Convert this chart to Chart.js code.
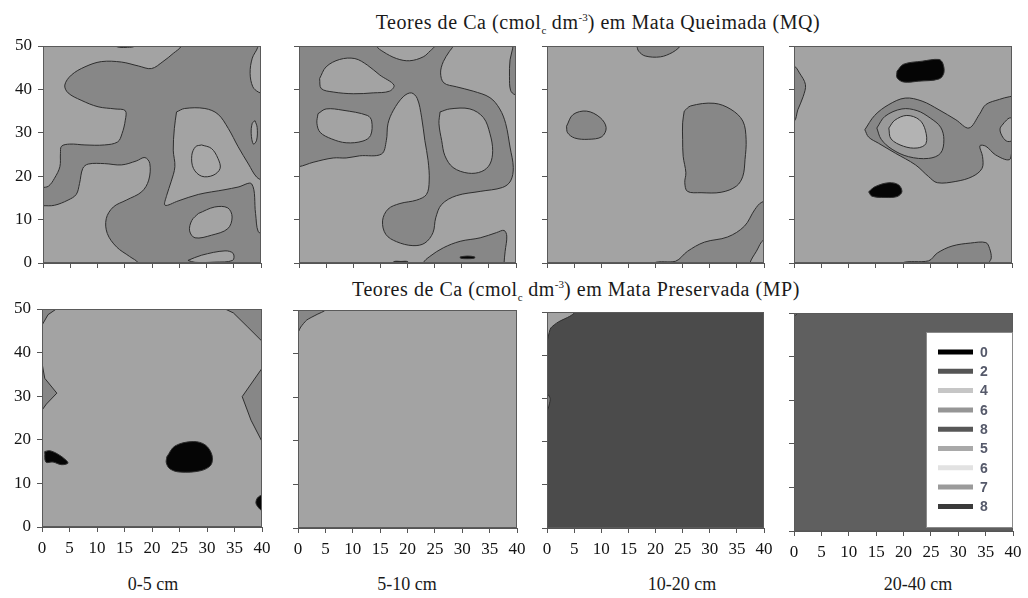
<!DOCTYPE html>
<html lang="pt">
<head>
<meta charset="utf-8">
<script src="https://cdn.jsdelivr.net/npm/chart.js@4.4.1/dist/chart.umd.min.js"></script>
<style>
  html, body { margin: 0; padding: 0; background: #fff; }
  #folha { position: relative; width: 1028px; height: 598px; overflow: hidden; background: #fff; }
  canvas { position: absolute; }
  .titulo { position: absolute; width: 700px; text-align: center; font-family: "Liberation Serif", serif; font-size: 20px; letter-spacing: 0.55px; color: #1a1a1a; white-space: nowrap; line-height: 20px; }
  .titulo sub, .titulo sup { font-size: 11px; line-height: 0; letter-spacing: 0; }
  .prof { position: absolute; width: 120px; text-align: center; font-family: "Liberation Serif", serif; font-size: 18px; color: #1a1a1a; line-height: 18px; }
</style>
</head>
<body>
<div id="folha">
  <div class="titulo" style="left:248px; top:12px;">Teores de Ca (cmol<sub>c</sub> dm<sup>-3</sup>) em Mata Queimada (MQ)</div>
  <div class="titulo" style="left:226px; top:279px;">Teores de Ca (cmol<sub>c</sub> dm<sup>-3</sup>) em Mata Preservada (MP)</div>
</div>
<script>
// Camadas de profundidade e legenda de classes
const PROFUNDIDADES = ['0-5 cm', '5-10 cm', '10-20 cm', '20-40 cm'];
const CLASSES_ROTULOS = ['0', '2', '4', '6', '8', '5', '6', '7', '8'];

// Extensão da malha amostral (m)
const X_MIN = 0, X_MAX = 40, X_PASSO = 5;
const Y_MIN = 0, Y_MAX = 50, Y_PASSO = 10;

// ---------- MQ 0-5 cm : isolinhas (x, y) ----------
const mqA_claro1 = [[-2,52],[25.6,52],[25.4,50],[23.9,48.3],[22.0,46.4],[19.9,44.8],[17.5,45.4],[14.4,46.3],[10.7,46.4],[7.7,45.2],[5.2,43.3],[4.0,41.0],[4.6,39.2],[7.0,37.5],[10.1,36.0],[13.2,35.5],[15.1,35.1],[15.1,32.9],[14.5,29.8],[13.7,27.9],[11.3,27.2],[7.7,27.2],[4.9,27.4],[3.4,26.9],[3.2,25.2],[3.1,22.2],[2.1,19.5],[1.0,17.7],[-0.2,17.4],[-2,17.4]];
const mqA_claro2 = [[-2,13.2],[0,13.2],[2.1,13.3],[4.6,14.5],[6.1,15.8],[6.7,18.3],[7.3,21.8],[8.3,22.8],[11.3,22.9],[14.4,22.6],[17.1,23.5],[18.7,24.3],[19.6,22.9],[19.4,19.1],[18.1,16.4],[15.3,14.5],[12.9,12.9],[11.6,10.2],[11.8,6.8],[13.5,3.7],[15.9,1.5],[17.5,0],[17.8,-2],[-2,-2]];
const mqA_claro3 = [[24.5,34.8],[26.0,35.6],[29.7,35.6],[32.1,34.3],[34.0,31.0],[35.8,26.8],[37.7,22.8],[39.2,19.8],[40.5,19.0],[42,19],[42,6.8],[40.5,6.9],[39.5,7.2],[39.0,11.4],[38.3,18.2],[35.8,17.5],[33.4,16.9],[28.5,15.8],[24.8,14.3],[22.4,13.3],[22.7,15.6],[23.5,18.7],[24.2,22.2],[23.9,26.0],[24.1,31.0],[24.5,34.8]];
const mqA_ilha = [[29.1,27.2],[30.9,26.4],[32.1,24.1],[32.5,21.8],[31.2,20.2],[29.1,20.0],[27.6,21.8],[27.3,24.8],[28.0,26.8],[29.1,27.2]];
const mqA_claro4 = [[28.5,11.4],[31.5,12.9],[33.9,12.7],[34.7,10.6],[33.9,7.9],[30.9,6.4],[27.9,5.8],[26.9,7.4],[27.3,9.8],[28.5,11.4]];
const mqA_claro5 = [[26.6,0.6],[29.1,1.8],[33.4,2.8],[34.9,2.2],[34.8,0.6],[31.5,0.2],[27.9,0.15],[26.6,0.6]];
const mqA_claro6 = [[39.6,52],[39.4,49.7],[38.4,47.2],[38.0,43.7],[38.5,40.6],[39.5,39.4],[40.5,39.0],[42,39],[42,52]];
const mqA_claro7 = [[38.9,32.8],[39.3,31.2],[39.2,28.3],[38.6,27.4],[38.2,29.8],[38.4,32.2],[38.9,32.8]];
const mqA_faixa = [[13.0,52],[17.0,52],[16.8,50],[15.5,49.7],[14.0,49.7],[13.2,50]];

// ---------- MQ 5-10 cm ----------
const mqB_escuro1 = [[-2,52],[28.5,52],[28.4,50],[27.7,48.7],[26.6,46.4],[26.1,43.8],[26.7,41.5],[29.0,40.6],[32.1,39.6],[35.2,38.1],[37.0,35.5],[38.1,32.1],[38.9,26.7],[39.5,22.0],[39.0,18.9],[37.5,17.4],[33.4,16.5],[29.0,15.5],[26.3,13.5],[25.2,10.4],[24.7,7.0],[23.2,4.6],[21.0,4.0],[18.0,4.9],[16.0,6.6],[15.4,9.7],[16.4,12.4],[18.6,13.7],[21.7,14.5],[23.5,15.8],[24.0,18.9],[23.8,23.6],[23.2,28.2],[22.6,33.6],[21.8,37.9],[20.7,39.2],[19.2,38.3],[17.4,35.2],[16.4,32.1],[16.1,28.2],[15.2,25.1],[11.2,24.7],[8.7,24.2],[6.3,24.2],[2.6,23.2],[0,22.2],[-2,22.2]];
const mqB_claro1 = [[14.2,52],[14.3,50],[15.5,48.7],[18.0,47.1],[20.4,46.6],[22.9,47.5],[24.2,48.9],[25.0,50],[25.1,52]];
const mqB_claro2 = [[3.8,42.5],[5.0,45.2],[7.5,46.9],[10.3,47.1],[12.6,45.6],[14.9,43.3],[17.5,41.0],[16.7,39.6],[13.7,39.2],[10.0,39.0],[6.3,39.4],[4.1,40.2],[3.8,42.5]];
const mqB_claro3 = [[3.5,34.4],[5.0,35.5],[8.1,35.2],[12.6,34.0],[13.4,32.7],[13.2,29.4],[11.8,28.1],[8.7,27.7],[6.0,28.6],[3.9,30.1],[3.3,32.2],[3.5,34.4]];
const mqB_claro4 = [[26.0,34.8],[27.8,35.5],[31.5,35.5],[34.0,33.5],[35.2,29.8],[35.7,25.9],[35.2,22.8],[33.7,21.1],[31.2,20.7],[28.4,22.0],[26.9,24.7],[26.3,28.2],[25.8,32.1],[26.0,34.8]];
const mqB_escuro2 = [[22.8,-2],[22.9,0],[24.1,1.5],[26.6,3.5],[29.7,5.0],[33.4,5.8],[36.4,7.0],[37.8,7.5],[38.3,6.2],[38.0,2.7],[37.8,0],[37.8,-2]];
const mqB_escuro3 = [[39.5,52],[39.4,49.5],[38.9,46.8],[38.8,42.9],[39.0,39.8],[39.8,38.8],[42,38.6],[42,52]];
const mqB_preto1 = [[29.7,1.4],[31.0,1.6],[32.4,1.4],[32.3,1.1],[31.0,1.0],[29.8,1.1],[29.7,1.4]];
const mqB_preto2 = [[17.3,-1],[17.4,0.25],[18.8,0.35],[20.1,0.25],[20.2,-1]];

// ---------- MQ 10-20 cm ----------
const mqC_escuro1 = [[16.6,52],[16.6,50],[16.9,48.8],[18.1,47.7],[20.9,47.5],[23.1,48.5],[24.3,49.6],[24.5,50],[24.5,52]];
const mqC_escuro2 = [[3.6,31.5],[4.8,34.2],[7.3,35.0],[9.8,33.5],[10.9,31.2],[10.1,29.1],[7.6,28.5],[5.1,28.8],[3.8,30.0],[3.6,31.5]];
const mqC_escuro3 = [[25.3,35.0],[26.5,36.2],[30.8,36.8],[33.9,35.4],[36.1,32.7],[36.7,28.5],[36.5,23.8],[36.1,20.0],[34.9,17.7],[32.1,16.3],[28.4,16.2],[25.9,16.5],[25.4,18.5],[25.6,20.8],[25.1,24.6],[25.0,28.5],[25.0,32.3],[25.3,35.0]];
const mqC_escuro4 = [[19.6,-2],[19.7,0],[23.7,0.4],[25.9,2.7],[29.0,4.8],[33.3,6.0],[36.4,8.5],[38.3,12.3],[39.6,14.0],[42,14.4],[42,5.2],[40,5.4],[38.6,2.7],[37.4,0],[37.3,-2]];

// ---------- MQ 20-40 cm ----------
const mqD_escuro1 = [[-2,45.6],[0,45.4],[1.0,43.8],[2.1,41.1],[1.7,38.4],[0.7,35.3],[0,32.6],[-2,32.4]];
const mqD_preto1 = [[18.9,44.2],[20.1,45.8],[23.5,46.5],[26.6,46.9],[27.3,46.0],[27.5,43.8],[26.6,42.4],[22.9,41.9],[20.1,41.7],[18.9,42.7],[18.9,44.2]];
const mqD_preto2 = [[13.7,16.4],[14.9,17.6],[17.4,18.5],[19.2,18.0],[19.8,16.4],[18.9,15.3],[16.7,15.1],[14.3,15.4],[13.7,16.4]];
const mqD_escuro2 = [[13.0,30.7],[14.8,34.0],[17.4,36.5],[20.4,38.0],[23.5,37.3],[26.6,35.3],[29.7,33.0],[32.1,31.1],[34.0,34.2],[35.2,36.5],[37.7,37.7],[39.5,38.3],[42,38.6],[42,25.8],[40.2,26.0],[39.5,23.8],[37.0,24.9],[35.2,26.9],[34.1,27.0],[34.6,24.5],[34.5,21.8],[32.7,19.9],[29.7,18.8],[26.3,18.5],[24.7,19.9],[22.3,22.6],[18.6,25.3],[15.5,27.6],[13.7,29.0],[13.0,30.7]];
const mqD_claro1 = [[38.6,32.4],[39.5,33.4],[40.5,33.3],[42,33.2],[42,28.4],[40.5,28.3],[39.2,28.0],[38.3,29.0],[37.8,30.9],[38.6,32.4]];
const mqD_anel2 = [[15.2,31.1],[16.7,33.8],[19.8,35.5],[22.6,35.1],[25.0,33.4],[26.9,31.3],[27.5,28.4],[26.9,25.3],[24.7,24.1],[21.0,24.5],[18.0,26.2],[16.0,28.5],[15.2,31.1]];
const mqD_anel3 = [[17.4,31.1],[18.5,32.9],[20.7,34.0],[23.0,33.0],[24.1,30.6],[24.2,27.5],[22.6,26.5],[20.1,26.9],[17.8,28.6],[17.4,31.1]];
const mqD_escuro3 = [[19.7,-2],[19.8,0],[24.7,0.5],[26.3,2.3],[29.0,3.9],[32.4,4.6],[35.2,4.7],[35.9,3.3],[36.2,1.2],[35.8,0],[35.8,-2]];

// ---------- MP 0-5 cm ----------
const mpA_canto1 = [[-2,52],[2.6,52],[2.6,50],[1.1,48.7],[0,46.3],[-2,46.3]];
const mpA_canto2 = [[33.3,52],[33.3,50],[34.8,49.1],[37.3,46.0],[40,42.6],[42,42.6],[42,52]];
const mpA_borda1 = [[-2,37.6],[0,37.6],[0.5,34.1],[2.7,30.7],[0.8,28.2],[0,26.8],[-2,26.8]];
const mpA_borda2 = [[42,36.4],[40,36.4],[36.4,29.9],[38.0,24.5],[40,19.6],[42,19.6]];
const mpA_preto1 = [[0.5,17.3],[1.4,17.5],[2.9,16.7],[4.4,15.3],[4.7,14.6],[3.5,14.3],[2.0,14.9],[0.7,14.9],[0.5,17.3]];
const mpA_preto2 = [[22.7,16.1],[24.2,18.6],[27.5,19.6],[29.7,18.8],[30.9,16.5],[30.7,14.2],[28.8,12.9],[25.1,12.6],[23.3,13.3],[22.6,14.7],[22.7,16.1]];
const mpA_preto3 = [[42,7.3],[40,7.3],[39.2,6.7],[38.9,5.5],[39.4,4.4],[40,3.8],[42,3.8]];

// ---------- MP 5-10 cm ----------
const mpB_canto = [[-2,52],[5.0,52],[5.0,50],[3.5,49.0],[1.6,47.7],[0.5,46.1],[0,45.0],[-2,45.0]];

// ---------- MP 10-20 cm ----------
const mpC_canto = [[-2,52],[5.2,52],[5.2,50],[4.2,49.0],[2.1,47.7],[0.7,46.3],[0.2,44.2],[0,43.4],[-2,43.4]];
const mpC_borda = [[-2,31.1],[0,31.1],[0.6,29.9],[0,27.2],[-2,27.2]];

// ---------- MP 20-40 cm ----------
const mpD_canto = [[-2,52],[0.8,52],[0.7,50],[0,49.2],[-2,49.2]];

// ---------- Estilo ----------
const COR = {
  claro: '#a3a3a3', escuro: '#878787', preto: '#050505',
  anel: '#9a9a9a', centro: '#b3b3b3',
  mp3: '#4b4b4b', mp4: '#5f5f5f', cantoMp4: '#8a8a8a',
  linha: '#2e2e2e', moldura: '#5a5a5a', eixo: '#555555', texto: '#141414'
};
const COR_CLASSES = ['#000000', '#555555', '#c6c6c6', '#969696', '#575757', '#a9a9a9', '#e2e2e2', '#9b9b9b', '#3a3a3a'];
const FONTE = "'Liberation Serif', 'Times New Roman', serif";
const PAD = { l: 46, r: 14, t: 12, b: 34 };

Chart.defaults.font.family = FONTE;

// Área de plotagem de cada painel na folha (px)
const PAINEIS = [
  { x: 43,  y: 46,  w: 218, h: 217, fundo: COR.escuro, eixoX: false, eixoY: true, camadas: [
      [mqA_claro1, COR.claro], [mqA_claro2, COR.claro], [mqA_claro3, COR.claro], [mqA_ilha, '#a8a8a8'],
      [mqA_claro4, COR.claro], [mqA_claro5, COR.claro], [mqA_claro6, COR.claro], [mqA_claro7, COR.claro],
      [mqA_faixa, '#6a6a6a'] ] },
  { x: 299, y: 46,  w: 217, h: 217, fundo: COR.claro, eixoX: false, eixoY: false, camadas: [
      [mqB_escuro1, COR.escuro], [mqB_claro1, COR.claro], [mqB_claro2, COR.claro], [mqB_claro3, COR.claro],
      [mqB_claro4, COR.claro], [mqB_escuro2, COR.escuro], [mqB_escuro3, COR.escuro],
      [mqB_preto1, COR.preto], [mqB_preto2, COR.preto] ] },
  { x: 547, y: 46,  w: 217, h: 217, fundo: COR.claro, eixoX: false, eixoY: false, camadas: [
      [mqC_escuro1, COR.escuro], [mqC_escuro2, COR.escuro], [mqC_escuro3, COR.escuro], [mqC_escuro4, COR.escuro] ] },
  { x: 794, y: 46,  w: 218, h: 217, fundo: COR.claro, eixoX: false, eixoY: false, camadas: [
      [mqD_escuro1, COR.escuro], [mqD_escuro2, COR.escuro], [mqD_claro1, COR.claro],
      [mqD_anel2, COR.anel], [mqD_anel3, COR.centro], [mqD_escuro3, COR.escuro],
      [mqD_preto1, COR.preto], [mqD_preto2, COR.preto] ] },
  { x: 42,  y: 309, w: 220, h: 218, fundo: COR.claro, eixoX: true, eixoY: true, camadas: [
      [mpA_canto1, COR.escuro, 0], [mpA_canto2, COR.escuro, 0], [mpA_borda1, COR.escuro, 0], [mpA_borda2, COR.escuro, 0],
      [mpA_preto1, COR.preto], [mpA_preto2, COR.preto], [mpA_preto3, COR.preto] ] },
  { x: 298, y: 310, w: 219, h: 218, fundo: COR.claro, eixoX: true, eixoY: false, camadas: [
      [mpB_canto, COR.escuro, 0.2] ] },
  { x: 547, y: 312, w: 217, h: 216, fundo: COR.mp3, eixoX: true, eixoY: false, camadas: [
      [mpC_canto, COR.claro, 0.2], [mpC_borda, '#7a7a7a', 0.2] ] },
  { x: 794, y: 313, w: 219, h: 218, fundo: COR.mp4, eixoX: true, eixoY: false, legenda: true, camadas: [
      [mpD_canto, COR.cantoMp4, 0] ] }
];

const paraXY = pts => pts.map(([x, y]) => ({ x, y }));

// Fundo da área de plotagem e moldura
const fundoPlugin = {
  id: 'fundoMalha',
  beforeDatasetsDraw(chart, args, opts) {
    const { ctx, chartArea: a } = chart;
    ctx.save();
    ctx.fillStyle = opts.cor;
    ctx.fillRect(a.left, a.top, a.right - a.left, a.bottom - a.top);
    ctx.restore();
  },
  afterDatasetsDraw(chart) {
    const { ctx, chartArea: a } = chart;
    ctx.save();
    ctx.strokeStyle = COR.moldura;
    ctx.lineWidth = 1;
    ctx.strokeRect(Math.round(a.left) + 0.5, Math.round(a.top) + 0.5, Math.round(a.right - a.left) - 1, Math.round(a.bottom - a.top) - 1);
    ctx.restore();
  }
};

// Legenda de classes em caixa branca
const legendaPlugin = {
  id: 'legendaClasses',
  afterDraw(chart, args, opts) {
    if (!opts.mostrar) return;
    const { ctx, chartArea: a } = chart;
    const bx = a.left + 132, by = a.top + 19, bw = a.right - bx, bh = a.bottom - by - 3;
    ctx.save();
    ctx.fillStyle = '#ffffff';
    ctx.fillRect(bx, by, bw, bh);
    ctx.strokeStyle = '#8a8a8a';
    ctx.lineWidth = 1;
    ctx.strokeRect(bx + 0.5, by + 0.5, bw - 1, bh - 1);
    ctx.font = 'bold 14px "Liberation Sans"';
    ctx.textBaseline = 'middle';
    CLASSES_ROTULOS.forEach((r, i) => {
      const yy = by + 20 + i * 19.3;
      ctx.strokeStyle = COR_CLASSES[i];
      ctx.lineWidth = 5;
      ctx.beginPath();
      ctx.moveTo(bx + 12, yy);
      ctx.lineTo(bx + 47, yy);
      ctx.stroke();
      ctx.fillStyle = '#55596a';
      ctx.fillText(r, bx + 54, yy + 1);
    });
    ctx.restore();
  }
};

const folha = document.getElementById('folha');

PAINEIS.forEach((p, k) => {
  const cv = document.createElement('canvas');
  const W = PAD.l + p.w + PAD.r, H = PAD.t + p.h + PAD.b;
  cv.width = W; cv.height = H;
  cv.style.left = (p.x - PAD.l) + 'px';
  cv.style.top = (p.y - PAD.t) + 'px';
  cv.style.width = W + 'px'; cv.style.height = H + 'px';
  folha.appendChild(cv);

  const n = p.camadas.length;
  const datasets = p.camadas.map(([pts, cor, tensao], i) => ({
    data: paraXY(pts),
    showLine: true,
    fill: 'shape',
    backgroundColor: cor,
    borderColor: COR.linha,
    borderWidth: 1,
    pointRadius: 0,
    tension: tensao === undefined ? 0.35 : tensao,
    order: n - i,
    clip: 0
  }));

  const zerarMargens = s => { s.paddingLeft = 0; s.paddingRight = 0; s.paddingTop = 0; s.paddingBottom = 0; };

  new Chart(cv, {
    type: 'scatter',
    data: { datasets },
    options: {
      responsive: false,
      animation: false,
      events: [],
      layout: { padding: { left: 0, right: PAD.r, top: PAD.t, bottom: 0 } },
      plugins: {
        legend: { display: false },
        tooltip: { enabled: false },
        fundoMalha: { cor: p.fundo },
        legendaClasses: { mostrar: !!p.legenda }
      },
      scales: {
        x: {
          type: 'linear', min: X_MIN, max: X_MAX,
          ticks: { stepSize: X_PASSO, display: p.eixoX, font: { family: FONTE, size: 17 }, color: COR.texto, padding: 6, maxRotation: 0 },
          grid: { drawOnChartArea: false, drawTicks: true, tickLength: 5, color: COR.eixo },
          border: { display: true, color: COR.eixo },
          afterFit(s) { s.height = PAD.b; zerarMargens(s); }
        },
        y: {
          type: 'linear', min: Y_MIN, max: Y_MAX,
          ticks: { stepSize: Y_PASSO, display: p.eixoY, font: { family: FONTE, size: 17 }, color: COR.texto, padding: 6 },
          grid: { drawOnChartArea: false, drawTicks: true, tickLength: 5, color: COR.eixo },
          border: { display: true, color: COR.eixo },
          afterFit(s) { s.width = PAD.l; zerarMargens(s); }
        }
      }
    },
    plugins: [fundoPlugin, legendaPlugin]
  });
});

// Rótulos das profundidades sob cada coluna
const CENTROS_PROF = [153, 407, 682, 918];
PROFUNDIDADES.forEach((t, i) => {
  const d = document.createElement('div');
  d.className = 'prof';
  d.textContent = t;
  d.style.left = (CENTROS_PROF[i] - 60) + 'px';
  d.style.top = '575px';
  folha.appendChild(d);
});
</script>
</body>
</html>
